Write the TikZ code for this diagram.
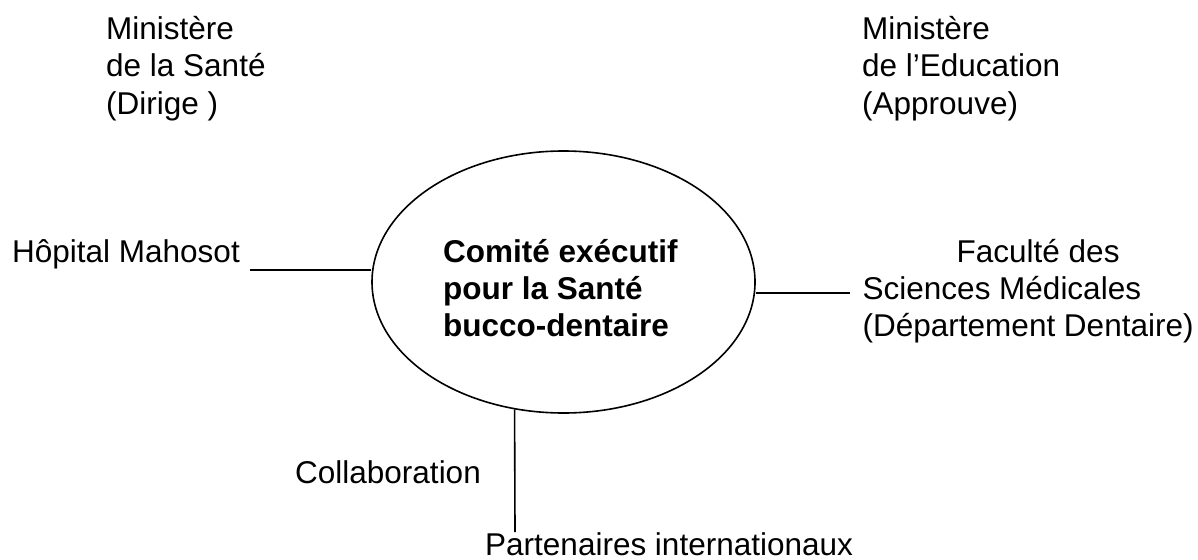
\documentclass[tikz,border=0pt]{standalone}
\usepackage{fontspec}
\setmainfont{Liberation Sans}
\usetikzlibrary{shapes,positioning}

\begin{document}
\begin{tikzpicture}[x=1pt,y=-1pt,
    every node/.style={inner sep=0pt,font=\fontsize{31.5}{37}\selectfont},
    entity/.style={anchor=base west,align=left},
    comite/.style={ellipse,draw,line width=1.6pt,minimum width=383pt,
      minimum height=262pt},
    link/.style={line width=1.6pt}]
  \useasboundingbox (0,0) rectangle (1198,559);

  % base anchor = last line
  \node[entity] (sante) at (106,114) {Ministère\\de la Santé\\(Dirige )};
  \node[entity] (education) at (862,114) {Ministère\\de l’Education\\(Approuve)};

  \node[comite] (comite) at (563.5,282) {};
  \node[entity,font=\fontsize{31.5}{37}\selectfont\bfseries] (comitetext) at (443,336)
    {Comité exécutif\\pour la Santé\\bucco-dentaire};

  \node[entity] (hopital) at (12,262) {Hôpital Mahosot};
  \node[entity] (faculte) at (862.5,336)
    {\hspace*{94pt}Faculté des\\Sciences Médicales\\(Département Dentaire)};
  \node[entity] (collab) at (295,483) {Collaboration};
  \node[entity] (partenaires) at (485,555) {Partenaires internationaux};

  \coordinate (hopend) at (250,270);
  \coordinate (facend) at (850,293);
  \coordinate (partend) at (515,532);

  \draw[link] (hopend) -- (comite.west |- hopend);
  \draw[link] (comite.east |- facend) -- (facend);
  \draw[link] (partend) -- (comite.249);
\end{tikzpicture}
\end{document}
